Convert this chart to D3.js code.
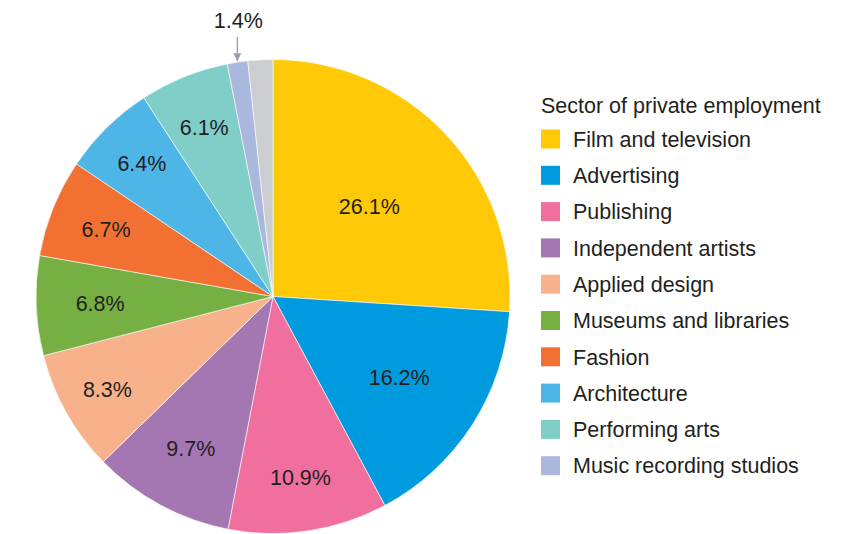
<!DOCTYPE html>
<html>
<head>
<meta charset="utf-8">
<script src="https://cdn.jsdelivr.net/npm/d3@7"></script>
<style>
  html, body { margin: 0; padding: 0; background: #fff; }
  svg { display: block; }
  text { font-family: "Liberation Sans", Arial, Helvetica, sans-serif; fill: #231f20; }
</style>
</head>
<body>
<svg id="chart" width="857" height="534"></svg>
<script>
// Share of private-sector creative employment, by sector (%)
const sectors = [
  "Film and television", "Advertising", "Publishing", "Independent artists",
  "Applied design", "Museums and libraries", "Fashion", "Architecture",
  "Performing arts", "Music recording studios", "Other"
];
const shares = [26.1, 16.2, 10.9, 9.7, 8.3, 6.8, 6.7, 6.4, 6.1, 1.4, 1.7];
const colors = [
  "#ffc907", "#009ade", "#f06f9e", "#a477b2", "#f8b28b", "#76b043",
  "#f27132", "#4db6e7", "#7fcec8", "#abb8de", "#cccdd0"
];
// distance of each in-slice label from the centre
const labelRadius = [132, 150, 183, 173, 190, 173, 180, 187, 183, 0, 0];
const legendTitle = "Sector of private employment";

const svg = d3.select("#chart");
const cx = 273, cy = 296.5, r = 237;
const fontSize = 21.5;

const pie = d3.pie().sort(null).value(d => d);
const arcs = pie(shares);
const arc = d3.arc().innerRadius(0).outerRadius(r);

const g = svg.append("g").attr("transform", `translate(${cx},${cy})`);

g.selectAll("path.slice")
  .data(arcs)
  .join("path")
  .attr("class", "slice")
  .attr("d", arc)
  .attr("fill", (d, i) => colors[i])
  .attr("stroke", "#fff")
  .attr("stroke-width", 0.6);

// value labels inside the larger slices
g.selectAll("text.val")
  .data(arcs.filter((d, i) => labelRadius[i] > 0))
  .join("text")
  .attr("class", "val")
  .attr("transform", d => {
    const a = (d.startAngle + d.endAngle) / 2;
    const lr = labelRadius[d.index];
    return `translate(${Math.sin(a) * lr},${-Math.cos(a) * lr})`;
  })
  .attr("text-anchor", "middle")
  .attr("dy", "0.36em")
  .attr("font-size", fontSize)
  .text(d => d.data.toFixed(1) + "%");

// callout for the music recording studios slice
const music = arcs[9];
const ma = (music.startAngle + music.endAngle) / 2;
const tipX = Math.sin(ma) * (r + 1), tipY = -Math.cos(ma) * (r + 1);
svg.append("defs").append("marker")
  .attr("id", "arrow")
  .attr("viewBox", "0 0 10 10")
  .attr("refX", 10).attr("refY", 5)
  .attr("markerWidth", 10).attr("markerHeight", 8)
  .attr("markerUnits", "userSpaceOnUse")
  .attr("orient", "auto")
  .append("path").attr("d", "M0,0 L10,5 L0,10 Z").attr("fill", "#9d9fa2");
g.append("line")
  .attr("x1", tipX).attr("y1", 37 - cy)
  .attr("x2", tipX).attr("y2", tipY)
  .attr("stroke", "#9d9fa2").attr("stroke-width", 1.3)
  .attr("marker-end", "url(#arrow)");
g.append("text")
  .attr("x", tipX + 1).attr("y", 20 - cy)
  .attr("dy", "0.36em")
  .attr("text-anchor", "middle")
  .attr("font-size", fontSize)
  .text(shares[9].toFixed(1) + "%");

// legend
const lx = 541, ly = 105, step = 36.3;
const legend = svg.append("g");
legend.append("text")
  .attr("x", lx).attr("y", ly)
  .attr("dy", "0.36em")
  .attr("font-size", fontSize)
  .text(legendTitle);
const rows = legend.selectAll("g.row")
  .data(sectors.slice(0, 10))
  .join("g")
  .attr("class", "row")
  .attr("transform", (d, i) => `translate(${lx},${ly + 34 + i * step})`);
rows.append("rect")
  .attr("x", 0).attr("y", -9.5)
  .attr("width", 19).attr("height", 19)
  .attr("fill", (d, i) => colors[i]);
rows.append("text")
  .attr("x", 32).attr("dy", "0.36em")
  .attr("font-size", fontSize)
  .text(d => d);
</script>
</body>
</html>
